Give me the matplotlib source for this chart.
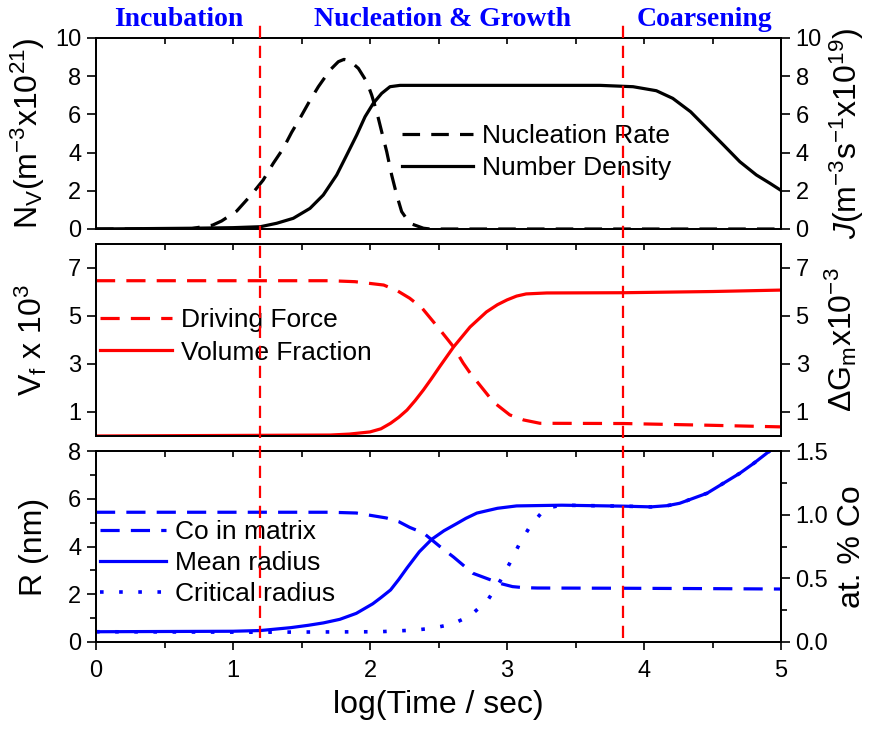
import numpy as np
import matplotlib.pyplot as plt
from matplotlib.lines import Line2D
from matplotlib.ticker import MultipleLocator
from matplotlib.transforms import blended_transform_factory

plt.rcParams['font.family'] = ['Liberation Sans', 'DejaVu Sans']
plt.rcParams['mathtext.fontset'] = 'custom'
plt.rcParams['mathtext.rm'] = 'Liberation Sans'
plt.rcParams['mathtext.it'] = 'Liberation Sans:italic'
plt.rcParams['axes.linewidth'] = 1.3

# ---- data (log time / sec) ----
# top panel
t_nuc = [0, 0.5, 0.7, 0.76, 0.85, 0.917, 1.027, 1.136, 1.22, 1.294, 1.367, 1.428, 1.489,
         1.557, 1.623, 1.708, 1.769, 1.81, 1.854, 1.915, 1.976, 2.012, 2.049, 2.085,
         2.122, 2.158, 2.195, 2.231, 2.29, 2.39, 2.44, 3.0, 4.0, 5.0]
nuc_rate = [0, 0, 0.02, 0.1, 0.2, 0.42, 0.94, 1.81, 2.56, 3.44, 4.22, 5.06, 5.8,
            6.67, 7.45, 8.32, 8.76, 8.88, 8.8, 8.41, 7.71, 7.02, 6.14, 5.1,
            4.05, 2.83, 1.78, 0.91, 0.3, 0.04, 0, 0, 0, 0]

t_nd = [0, 0.7, 1.0, 1.2, 1.319, 1.44, 1.562, 1.659, 1.757, 1.83, 1.903, 1.964, 2.024,
        2.085, 2.146, 2.219, 3.0, 3.68, 3.92, 4.09, 4.21, 4.34, 4.46, 4.58, 4.70, 4.82,
        4.92, 5.0]
num_density = [0, 0.04, 0.07, 0.12, 0.3, 0.56, 1.08, 1.78, 2.83, 3.87, 4.92, 5.88, 6.58,
               7.1, 7.45, 7.52, 7.52, 7.52, 7.45, 7.24, 6.84, 6.14, 5.27, 4.4, 3.52, 2.83,
               2.39, 2.02]

# middle panel
t_df = [0, 1.71, 1.89, 2.10, 2.20, 2.29, 2.38, 2.50, 2.57, 2.61, 2.68, 2.73, 2.83, 2.90,
        3.02, 3.12, 3.24, 3.85, 4.46, 5.0]
driving_force = [6.47, 6.47, 6.43, 6.29, 6.05, 5.74, 5.33, 4.5, 4.0, 3.71, 3.04, 2.63,
                 1.92, 1.42, 0.88, 0.67, 0.53, 0.52, 0.45, 0.38]

t_vf = [0, 1.71, 1.85, 2.0, 2.08, 2.15, 2.21, 2.27, 2.33, 2.39, 2.45, 2.51, 2.61, 2.73,
        2.85, 2.93, 3.0, 3.07, 3.14, 3.29, 3.85, 4.5, 5.0]
vol_fraction = [0, 0.04, 0.08, 0.17, 0.3, 0.53, 0.78, 1.08, 1.48, 1.92, 2.4, 2.9, 3.71,
                4.54, 5.17, 5.47, 5.67, 5.83, 5.92, 5.96, 5.97, 6.02, 6.08]

# bottom panel
t_co = [0, 1.71, 1.9, 2.12, 2.21, 2.29, 2.39, 2.51, 2.61, 2.75, 2.85, 2.95, 3.04, 3.12,
        3.22, 3.85, 4.5, 5.0]
co_matrix = [1.019, 1.019, 1.013, 0.974, 0.945, 0.90, 0.856, 0.75, 0.667, 0.54, 0.50,
             0.46, 0.435, 0.427, 0.424, 0.422, 0.419, 0.416]

t_r = [0, 1.0, 1.2, 1.42, 1.55, 1.66, 1.78, 1.9, 2.02, 2.08, 2.15, 2.21, 2.27, 2.36,
       2.45, 2.54, 2.63, 2.70, 2.78, 2.93, 3.07, 3.4, 3.85, 4.05, 4.17, 4.26, 4.36,
       4.46, 4.58, 4.70, 4.80, 4.91, 4.95]
mean_radius = [0.43, 0.45, 0.48, 0.6, 0.7, 0.8, 0.95, 1.2, 1.6, 1.86, 2.18, 2.62, 3.1,
               3.78, 4.3, 4.66, 4.95, 5.18, 5.4, 5.6, 5.7, 5.73, 5.69, 5.66, 5.71, 5.81,
               6.02, 6.23, 6.65, 7.07, 7.48, 7.97, 8.15]

t_rc = [0, 1.2, 2.07, 2.33, 2.46, 2.60, 2.73, 2.86, 2.95, 3.02, 3.09, 3.17, 3.28, 3.4,
        3.85, 4.05, 4.17, 4.26, 4.36, 4.46, 4.58, 4.70, 4.80, 4.91, 4.95]
crit_radius = [0.43, 0.41, 0.43, 0.5, 0.58, 0.75, 1.09, 1.76, 2.55, 3.3, 4.1, 4.86, 5.6,
               5.73, 5.69, 5.66, 5.71, 5.81, 6.02, 6.23, 6.65, 7.07, 7.48, 7.97, 8.15]

stage_x = [1.2, 3.85]
stage_names = ['Incubation', 'Nucleation & Growth', 'Coarsening']
stage_pos = [179, 443, 704]

# ---- figure ----
W, H = 877, 732
fig = plt.figure(figsize=(W / 100, H / 100), dpi=100)
left, width = 96 / W, 685 / W
ax1 = fig.add_axes([left, 1 - 229 / H, width, 191 / H])
ax2 = fig.add_axes([left, 1 - 436 / H, width, 192 / H])
ax3 = fig.add_axes([left, 1 - 642 / H, width, 191 / H])
r1, r2, r3 = ax1.twinx(), ax2.twinx(), ax3.twinx()

lw = 2.3
h1, = r1.plot(t_nuc, nuc_rate, color='black', lw=lw, dashes=(5.5, 3.5), label='Nucleation Rate')
h2, = ax1.plot(t_nd, num_density, color='black', lw=lw, label='Number Density')
h3, = r2.plot(t_df, driving_force, color='red', lw=lw, dashes=(6, 3.5), label='Driving Force')
h4, = ax2.plot(t_vf, vol_fraction, color='red', lw=lw, label='Volume Fraction')
h5, = r3.plot(t_co, co_matrix, color='blue', lw=lw, dashes=(6, 3.5), label='Co in matrix')
h7, = ax3.plot(t_rc, crit_radius, color='blue', lw=2.6, dashes=(1, 4.3), label='Critical radius')
h6, = ax3.plot(t_r, mean_radius, color='blue', lw=lw, label='Mean radius')

ax1.set_ylim(0, 10)
r1.set_ylim(0, 10)
ax2.set_ylim(0, 8)
r2.set_ylim(0, 8)
ax3.set_ylim(0, 8)
r3.set_ylim(0, 1.5)
for a in (ax1, r1):
    a.yaxis.set_major_locator(MultipleLocator(2))
for a in (ax2, r2):
    a.set_yticks([1, 3, 5, 7])
ax3.yaxis.set_major_locator(MultipleLocator(2))
ax3.yaxis.set_minor_locator(MultipleLocator(1))
r3.yaxis.set_major_locator(MultipleLocator(0.5))
r3.yaxis.set_minor_locator(MultipleLocator(0.25))
r3.yaxis.set_major_formatter(plt.FormatStrFormatter('%.1f'))

for ax, tw in ((ax1, r1), (ax2, r2), (ax3, r3)):
    ax.set_xlim(0, 5)
    ax.xaxis.set_major_locator(MultipleLocator(1))
    ax.xaxis.set_minor_locator(MultipleLocator(0.5))
    last = ax is ax3
    ax.tick_params(axis='x', which='both', top=False, bottom=last, labelbottom=last,
                   direction='out', labelsize=17, pad=7)
    ax.tick_params(axis='x', which='major', length=6, width=1.2)
    ax.tick_params(axis='x', which='minor', length=4, width=1.2)
    ax.tick_params(axis='y', which='both', direction='out', labelsize=17, width=1.2, pad=4)
    ax.tick_params(axis='y', which='major', length=6.5)
    ax.tick_params(axis='y', which='minor', length=4)
    tw.xaxis.set_visible(True)
    tw.tick_params(axis='x', which='both', top=True, bottom=False, labeltop=False,
                   labelbottom=False, direction='in', length=4, width=1.2)
    tw.tick_params(axis='y', which='both', direction='out', labelsize=17, width=1.2, pad=4)
    tw.tick_params(axis='y', which='major', length=6.5)
    tw.tick_params(axis='y', which='minor', length=4)

lab = 23
ax1.set_ylabel(r'N$_\mathregular{V}$(m$^\mathregular{-3}$x10$^\mathregular{21}$)', fontsize=lab, labelpad=6)
r1.set_ylabel(r'$\mathit{J}$(m$^\mathregular{-3}$s$^\mathregular{-1}$x10$^\mathregular{19}$)', fontsize=lab, labelpad=4)
ax2.set_ylabel(r'V$_\mathregular{f}$ x 10$^\mathregular{3}$', fontsize=lab, labelpad=14)
r2.set_ylabel(r'ΔG$_\mathregular{m}$x10$^\mathregular{-3}$', fontsize=lab, labelpad=10)
ax3.set_ylabel('R (nm)', fontsize=lab, labelpad=14)
r3.set_ylabel('at. % Co', fontsize=lab, labelpad=6)
ax3.set_xlabel('log(Time / sec)', fontsize=lab, labelpad=6)

leg_kw = dict(frameon=False, fontsize=19, loc='upper left', borderaxespad=0,
              borderpad=0, handletextpad=0.32, labelspacing=0.31)
r1.legend([h1, h2], [h1.get_label(), h2.get_label()], bbox_to_anchor=(0.447, 0.55),
          handlelength=2.69, **leg_kw)
r2.legend([h3, h4], [h3.get_label(), h4.get_label()], bbox_to_anchor=(0.006, 0.665),
          handlelength=2.73, **leg_kw)
r3.legend([h5, h6, h7], [h5.get_label(), h6.get_label(), h7.get_label()],
          bbox_to_anchor=(0.006, 0.64), handlelength=2.5,
          **{**leg_kw, 'labelspacing': 0.27})

# stage boundaries spanning all panels
trans = blended_transform_factory(ax3.transData, fig.transFigure)
for x in stage_x:
    fig.add_artist(Line2D([x, x], [1 - 638 / H, 1 - 18 / H], transform=trans,
                          color='red', lw=1.6, dashes=(5.5, 3.5)))

for name, px in zip(stage_names, stage_pos):
    fig.text(px / W, 1 - 19 / H, name, ha='center', va='center', color='blue',
             fontsize=20, fontweight='bold', family='Liberation Serif')

fig.savefig('out.png', dpi=100)
